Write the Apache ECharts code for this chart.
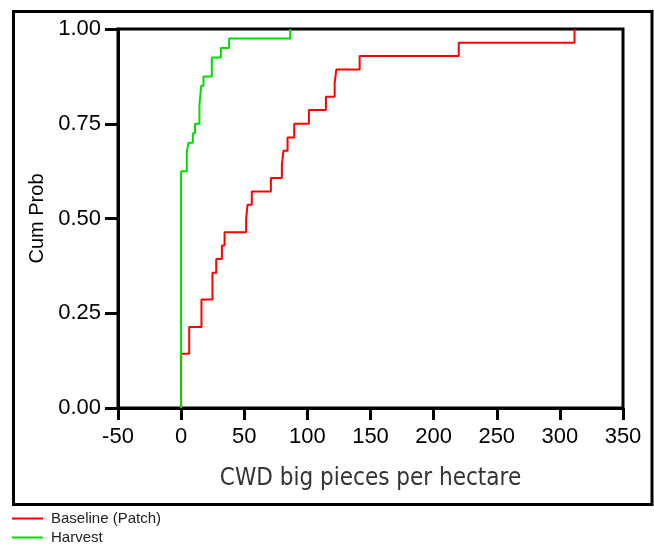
<!DOCTYPE html>
<html>
<head>
<meta charset="utf-8">
<script src="https://cdn.jsdelivr.net/npm/echarts@6/dist/echarts.min.js"></script>
<style>
  html, body { margin: 0; padding: 0; background: #fff; }
  #chart { width: 654px; height: 546px; }
</style>
</head>
<body>
<div id="chart"></div>
<script>
// Empirical cumulative distributions: step positions and cumulative probability
const baselineX = [0, 0, 6.4, 16.1, 24.8, 27.8, 32.3, 34.4, 51.5, 52.6, 56.0, 71.1, 79.8, 81.1, 84.3, 89.6, 101.2, 114.7, 121.6, 122.9, 141.4, 219.9, 311.6];
const baselineP = [0, 0.143, 0.214, 0.286, 0.357, 0.393, 0.429, 0.464, 0.5, 0.536, 0.571, 0.607, 0.643, 0.679, 0.714, 0.75, 0.786, 0.821, 0.857, 0.893, 0.929, 0.964, 1.0];

const harvestX = [0, 0, 4.5, 5.8, 9.3, 11.0, 14.5, 15.9, 17.7, 24.3, 31.5, 38.0, 86.4];
const harvestP = [0, 0.625, 0.675, 0.7, 0.725, 0.75, 0.8, 0.85, 0.875, 0.925, 0.95, 0.975, 1.0];

const seriesNames = ['Baseline (Patch)', 'Harvest'];
const xTitle = 'CWD big pieces per hectare';
const yTitle = 'Cum Prob';

const pairs = (xs, ps) => xs.map((x, i) => [x, ps[i]]);

const chart = echarts.init(document.getElementById('chart'), null, { renderer: 'canvas' });

const labelFont = { fontFamily: 'Liberation Sans, Arial, sans-serif', fontSize: 22, color: '#000' };
const legendText = { fontFamily: 'Liberation Sans, Arial, sans-serif', fontSize: 15, color: '#222', padding: [0, 0, 0, 3] };

chart.setOption({
  animation: false,
  backgroundColor: '#fff',
  grid: {
    left: 118, top: 29, right: 31, bottom: 138,
    show: true, borderColor: '#000', borderWidth: 3, backgroundColor: 'transparent'
  },
  xAxis: {
    type: 'value', min: -50, max: 350, interval: 50,
    name: xTitle, nameLocation: 'middle', nameGap: 59,
    nameTextStyle: { fontFamily: 'DejaVu Sans Condensed, DejaVu Sans, sans-serif', fontSize: 24, color: '#333' },
    axisLine: { show: true, onZero: false, lineStyle: { color: '#000', width: 3 } },
    axisTick: { show: true, length: 12, lineStyle: { color: '#000', width: 3 } },
    axisLabel: Object.assign({ margin: 18 }, labelFont),
    splitLine: { show: false }
  },
  yAxis: {
    type: 'value', min: 0, max: 1, interval: 0.25,
    name: yTitle, nameLocation: 'middle', nameGap: 68,
    nameTextStyle: { fontFamily: 'Liberation Sans, Arial, sans-serif', fontSize: 20, color: '#000' },
    axisLine: { show: true, onZero: false, lineStyle: { color: '#000', width: 3 } },
    axisTick: { show: true, length: 13, lineStyle: { color: '#000', width: 3 } },
    axisLabel: Object.assign({ margin: 17, formatter: v => v.toFixed(2) }, labelFont),
    splitLine: { show: false }
  },
  legend: [
    {
      data: [seriesNames[0]], orient: 'vertical', left: 12, top: 511, padding: 0,
      icon: 'rect', itemWidth: 31, itemHeight: 2, textStyle: legendText
    },
    {
      data: [seriesNames[1]], orient: 'vertical', left: 12, top: 530, padding: 0,
      icon: 'rect', itemWidth: 31, itemHeight: 2, textStyle: legendText
    }
  ],
  graphic: [
    {
      type: 'rect', z: 100, silent: true,
      shape: { x: 13.5, y: 11.5, width: 638.5, height: 493 },
      style: { fill: 'none', stroke: '#000', lineWidth: 3 }
    }
  ],
  series: [
    {
      name: seriesNames[0], type: 'line', step: 'end', showSymbol: false,
      color: '#ff0000', lineStyle: { color: '#ff0000', width: 2 },
      data: pairs(baselineX, baselineP)
    },
    {
      name: seriesNames[1], type: 'line', step: 'end', showSymbol: false,
      color: '#00dd00', lineStyle: { color: '#00dd00', width: 2 },
      data: pairs(harvestX, harvestP)
    }
  ]
});
</script>
</body>
</html>
